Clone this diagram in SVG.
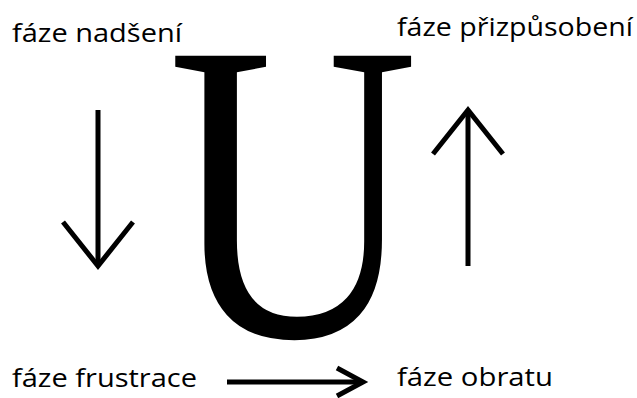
<svg xmlns="http://www.w3.org/2000/svg" width="637" height="398" viewBox="0 0 637 398">
  <style>
    .lbl { font-family: "Open Sans", "Noto Sans", "Liberation Sans", sans-serif; font-size: 25px; fill: #000; }
    .big { font-family: "Liberation Serif", "DejaVu Serif", serif; font-size: 428px; fill: #000; }
    .arr { fill: none; stroke: #000; stroke-width: 5; stroke-linejoin: miter; stroke-linecap: butt; }
  </style>
  <rect width="637" height="398" fill="#fff"/>
  <g id="u-letter">
    <text class="big" transform="translate(168,336) scale(0.81,1)" x="0" y="0">U</text>
  </g>
  <g id="faze-nadseni">
    <text class="lbl" x="12" y="42" textLength="170" lengthAdjust="spacingAndGlyphs">fáze nadšení</text>
  </g>
  <g id="faze-prizpusobeni">
    <text class="lbl" x="397" y="36" textLength="236" lengthAdjust="spacingAndGlyphs">fáze přizpůsobení</text>
  </g>
  <g id="faze-frustrace">
    <text class="lbl" x="12" y="387" textLength="185" lengthAdjust="spacingAndGlyphs">fáze frustrace</text>
  </g>
  <g id="faze-obratu">
    <text class="lbl" x="397" y="386" textLength="156" lengthAdjust="spacingAndGlyphs">fáze obratu</text>
  </g>
  <g id="connectors">
    <g id="arrow-down">
      <line class="arr" x1="98" y1="110" x2="98" y2="264"/>
      <polyline class="arr" points="63,222 98,266 133,222"/>
    </g>
    <g id="arrow-up">
      <line class="arr" x1="468" y1="110" x2="468" y2="266"/>
      <polyline class="arr" points="433,154 468,110 503,154"/>
    </g>
    <g id="arrow-right">
      <line class="arr" x1="227" y1="382" x2="361" y2="382"/>
      <polyline class="arr" points="337,368 363,382 337,396"/>
    </g>
  </g>
</svg>
